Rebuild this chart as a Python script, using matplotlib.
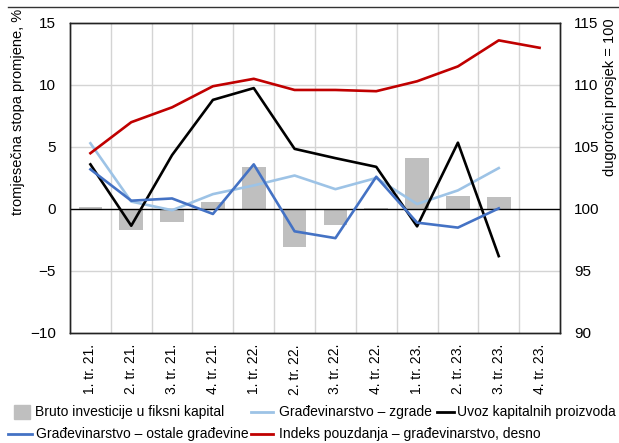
import matplotlib
matplotlib.use("Agg")
import matplotlib.pyplot as plt
from matplotlib.lines import Line2D
from matplotlib.patches import Rectangle
import numpy as np

plt.rcParams['font.family'] = ['Liberation Sans Narrow', 'Liberation Sans', 'DejaVu Sans']
plt.rcParams['font.size'] = 10

categories = ["1. tr. 21.", "2. tr. 21.", "3. tr. 21.", "4. tr. 21.",
              "1. tr. 22.", "2. tr. 22.", "3. tr. 22.", "4. tr. 22.",
              "1. tr. 23.", "2. tr. 23.", "3. tr. 23.", "4. tr. 23."]

bruto = [0.2, -1.7, -1.05, 0.6, 3.4, -3.1, -1.3, 0.1, 4.1, 1.05, 1.0, np.nan]
zgrade = [5.3, 0.6, -0.1, 1.2, 1.9, 2.7, 1.6, 2.5, 0.4, 1.5, 3.3, np.nan]
uvoz = [3.6, -1.35, 4.35, 8.8, 9.75, 4.85, 4.1, 3.4, -1.4, 5.35, -3.8, np.nan]
ostale = [3.2, 0.67, 0.85, -0.4, 3.6, -1.8, -2.35, 2.6, -1.1, -1.5, 0.05, np.nan]
indeks = [104.5, 107.0, 108.2, 109.9, 110.5, 109.6, 109.6, 109.5, 110.3, 111.5, 113.6, 113.0]

left_ticks = [-10, -5, 0, 5, 10, 15]
right_ticks = [90, 95, 100, 105, 110, 115]

c_bar = '#bfbfbf'
c_zgrade = '#9dc3e6'
c_uvoz = '#000000'
c_ostale = '#4472c4'
c_indeks = '#c00000'

W, H = 619, 443
fig = plt.figure(figsize=(W / 100, H / 100), dpi=100)
ax = fig.add_axes([70 / W, 1 - 333 / H, 490 / W, 310 / H])
ax2 = ax.twinx()

x = np.arange(len(categories))
ax.bar(x, bruto, width=0.58, color=c_bar, zorder=2)
ax.axhline(0, color='black', lw=1.0, zorder=3)
ax.plot(x, zgrade, color=c_zgrade, lw=1.9, zorder=4)
ax.plot(x, uvoz, color=c_uvoz, lw=1.9, zorder=5)
ax.plot(x, ostale, color=c_ostale, lw=1.9, zorder=6)
ax2.plot(x, indeks, color=c_indeks, lw=1.9, zorder=7)

ax.set_xlim(-0.5, len(categories) - 0.5)
ax.set_ylim(-10, 15)
ax2.set_ylim(90, 115)
ax.set_yticks(left_ticks)
ax.set_yticklabels(["\u221210", "\u22125", "0", "5", "10", "15"])
ax2.set_yticks(right_ticks)
ax.set_xticks(x)
ax.set_xticklabels(categories, rotation=90)

ax.grid(False)
for v in np.arange(1, len(categories)) - 0.5:
    ax.axvline(v, color='#d4d4d4', lw=1.0, zorder=1)
for t in left_ticks[1:-1]:
    if t != 0:
        ax.axhline(t, color='#d4d4d4', lw=1.0, zorder=1)

ax.tick_params(axis='x', which='both', length=0, pad=8, labelsize=10)
ax.tick_params(axis='y', length=0, pad=10, labelsize=11)
ax2.tick_params(axis='y', length=0, pad=10, labelsize=11)

for a in (ax, ax2):
    for s in a.spines.values():
        s.set_color('#222222')
        s.set_linewidth(1.0)

fig.text(18 / W, 1 - 112 / H, "tromjesečna stopa promjene, %", rotation=90,
         ha='center', va='center', fontsize=10.5)
fig.text(610 / W, 1 - 97 / H, "dugoročni prosjek = 100", rotation=90,
         ha='center', va='center', fontsize=10.5)

# top decoration line
fig.add_artist(Line2D([8 / W, 1.0], [1 - 7 / H, 1 - 7 / H], color='#333333', lw=1.0))

# manual legend
def ly(p):
    return 1 - p / H

def lx(p):
    return p / W

fig.add_artist(Rectangle((lx(14), ly(419)), 16 / W, 14 / H, color=c_bar))
fig.text(lx(35), ly(412), "Bruto investicije u fiksni kapital", va='center', ha='left', fontsize=10)
fig.add_artist(Line2D([lx(251), lx(273)], [ly(412), ly(412)], color=c_zgrade, lw=2.0))
fig.text(lx(279), ly(412), "Građevinarstvo – zgrade", va='center', ha='left', fontsize=10)
fig.add_artist(Line2D([lx(437), lx(454)], [ly(412), ly(412)], color=c_uvoz, lw=2.0))
fig.text(lx(457), ly(412), "Uvoz kapitalnih proizvoda", va='center', ha='left', fontsize=10)

fig.add_artist(Line2D([lx(8), lx(32)], [ly(434), ly(434)], color=c_ostale, lw=2.0))
fig.text(lx(36), ly(434), "Građevinarstvo – ostale građevine", va='center', ha='left', fontsize=10)
fig.add_artist(Line2D([lx(251), lx(273)], [ly(434), ly(434)], color=c_indeks, lw=2.0))
fig.text(lx(279), ly(434), "Indeks pouzdanja – građevinarstvo, desno", va='center', ha='left', fontsize=10)

fig.savefig("out.png", dpi=100)
